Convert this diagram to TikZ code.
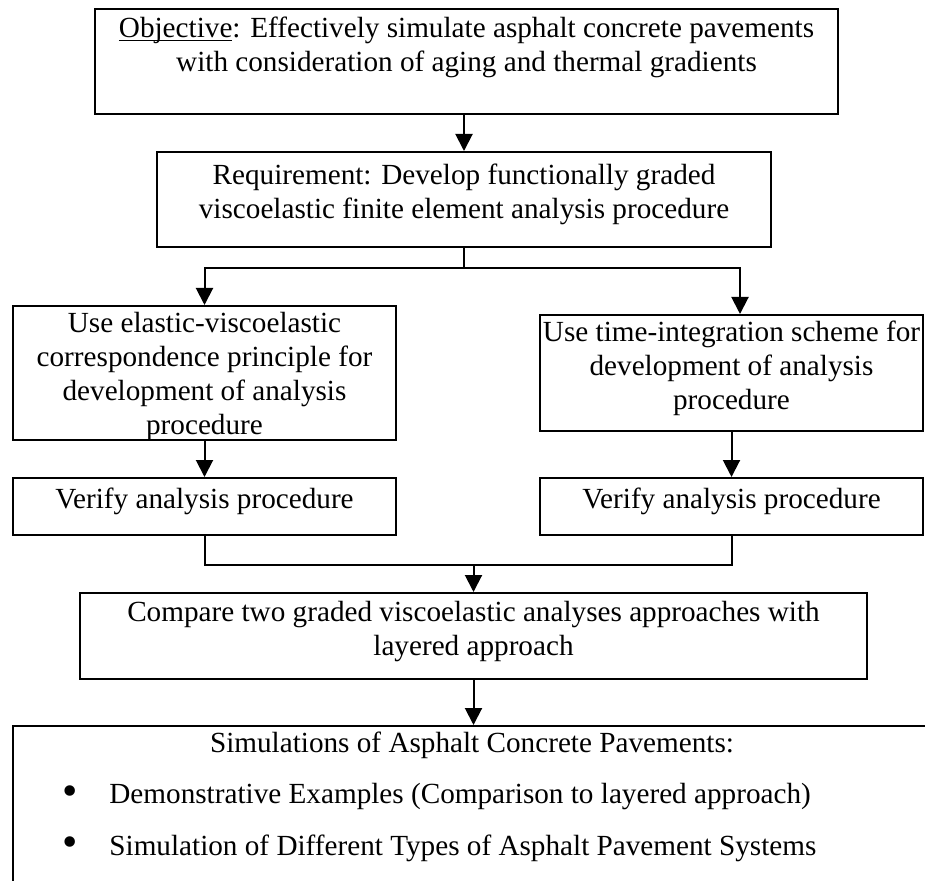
\documentclass[tikz,border=0pt]{standalone}
\usepackage{fontspec}
\usepackage{graphicx}
\setmainfont{Liberation Serif}
\usetikzlibrary{calc,arrows.meta}

\newcommand{\uword}[1]{\underline{\smash{#1}}}
\newcommand{\bul}{\makebox[23.5pt][l]{\raisebox{-0.6pt}{\scalebox{1.5}{\textbullet}}}}

\tikzset{
  box/.style={draw, line width=1pt, inner sep=1pt, align=center, font=\fontsize{14.6}{17}\selectfont},
  lift/.style={text depth=8pt},
  txt/.style={inner sep=1pt, font=\fontsize{14.6}{17}\selectfont},
  link/.style={line width=1pt},
  arr/.style={link, -{Triangle[length=8.5pt,width=8.5pt]}},
}

\begin{document}
\begin{tikzpicture}[x=0.5pt,y=-0.5pt]
            \useasboundingbox (0,0) rectangle (925,881);
            \clip (0,0) rectangle (925,881);
            % boxes
            \node (obj) [box, minimum width=371.5pt, minimum height=52.5pt] at (466.5,61.5) {\uword{Objective}: Effectively simulate asphalt concrete pavements\\ with consideration of aging and thermal gradients\\ ~};
            \node (req) [box, lift, minimum width=307pt, minimum height=47.5pt] at (464,199.5) {Requirement: Develop functionally graded\\ viscoelastic finite element analysis procedure};
            \node (evc) [box, text depth=0pt, minimum width=191.5pt, minimum height=67pt] at (204.5,373) {Use elastic-viscoelastic\\ correspondence principle for\\ development of analysis\\ procedure};
            \node (tis) [box, lift, minimum width=191.5pt, minimum height=58pt] at (731.5,373) {Use time-integration scheme for\\ development of analysis\\ procedure};
            \node (ver1) [box, lift, minimum width=191.5pt, minimum height=28.5pt] at (204.5,506.5) {Verify analysis procedure};
            \node (ver2) [box, lift, minimum width=191.5pt, minimum height=28.5pt] at (731.5,506.5) {Verify analysis procedure};
            \node (cmp) [box, lift, minimum width=393.5pt, minimum height=43pt] at (473.5,636) {Compare two graded viscoelastic analyses approaches with\\ layered approach};
            \node (sim) [box, anchor=north west, minimum width=470pt, minimum height=95pt] at (12,725) {};
            \node (simt) [txt] at (472,745) {Simulations of Asphalt Concrete Pavements:};
            \node (item1) [txt, anchor=west] at (60,797) {\bul Demonstrative Examples (Comparison to layered approach)};
            \node (item2) [txt, anchor=west] at (60,848) {\bul Simulation of Different Types of Asphalt Pavement Systems};
            % connectors
            \draw[arr] (req.north |- obj.south) -- (req.north);
            \draw[link] (req.south) -- ++(0,20) coordinate (split);
            \draw[arr] (split) -| (evc.north);
            \draw[arr] (split) -| ($(tis.north)+(8.5,0)$);
            \draw[arr] (evc.south) -- (ver1.north);
            \draw[arr] (tis.south) -- (ver2.north);
            \coordinate (join) at (473.5,565);
            \draw[link] (ver1.south) |- (join) -| (ver2.south);
            \draw[arr] (join) -- (cmp.north);
            \draw[arr] (cmp.south) -- (cmp.south |- sim.north);
        \end{tikzpicture}
\end{document}
